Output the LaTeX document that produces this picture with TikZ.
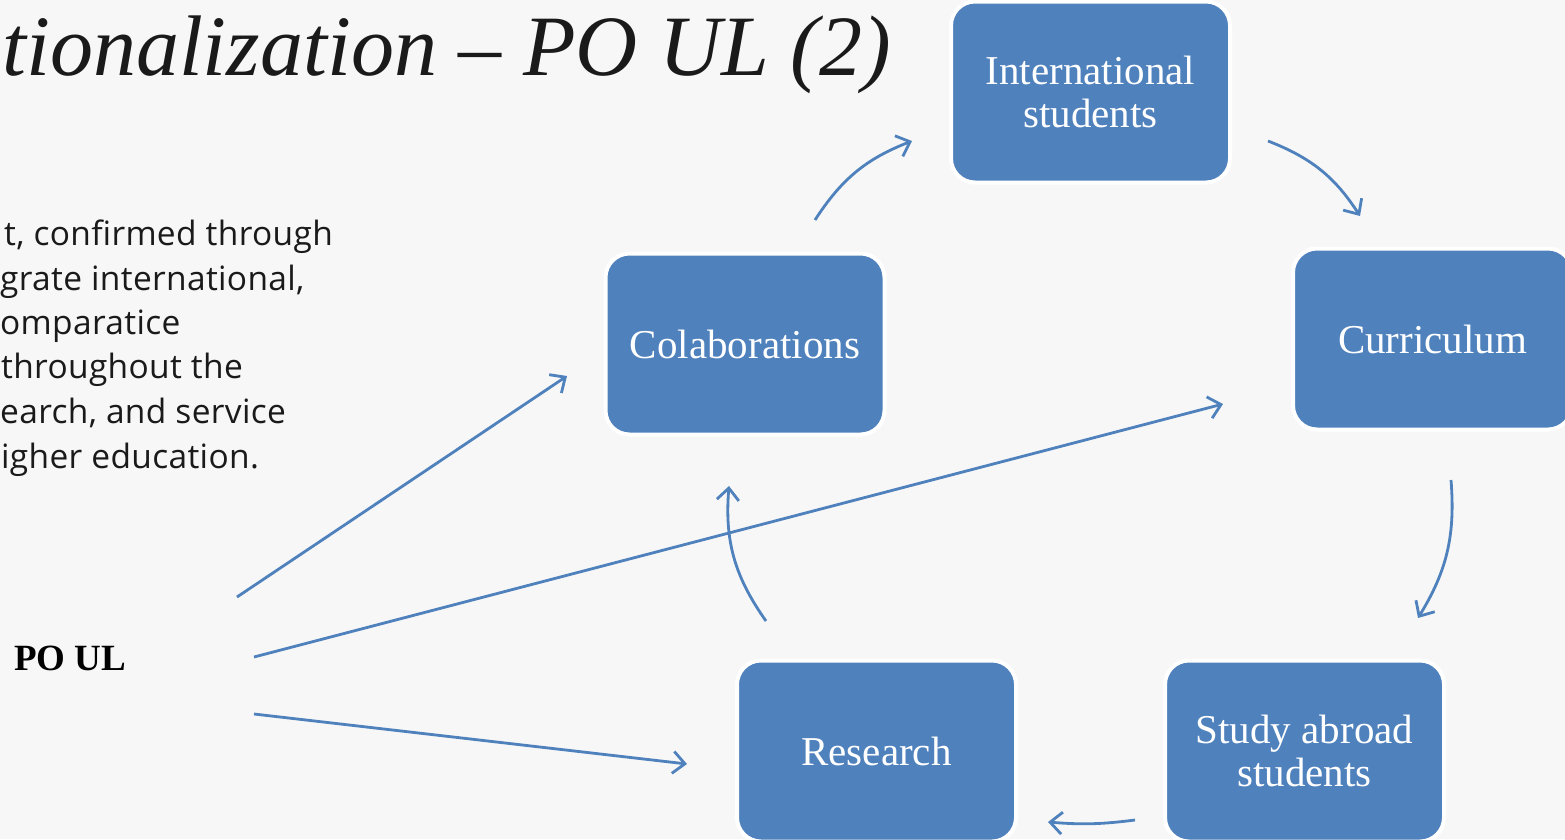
\documentclass[tikz,border=0pt]{standalone}
\usepackage{fontspec}
\setmainfont{Liberation Serif}
\newfontfamily\bodyfont[LetterSpace=1]{Open Sans}
\usetikzlibrary{arrows.meta}
\definecolor{boxblue}{HTML}{4F81BD}
\definecolor{bgcol}{HTML}{F7F7F7}
\definecolor{txt}{HTML}{1A1A1A}
\begin{document}
\begin{tikzpicture}[x=1pt,y=1pt,
  box/.style={draw=white, line width=4pt, fill=boxblue, rounded corners=24pt,
    minimum width=279pt, minimum height=181pt, text=white,
    font=\fontsize{41}{43}\selectfont, align=center, inner sep=0pt},
  conn/.style={draw=boxblue, line width=2.8pt, -{Straight Barb[length=12pt,width=22pt]}},
  bodyline/.style={font=\bodyfont\fontsize{33.5}{40}\selectfont, anchor=base west, inner sep=0pt, text=txt}
]
\useasboundingbox (0,0) rectangle (1565,-839);
\clip (0,0) rectangle (1565,-839);
\fill[bgcol] (0,0) rectangle (1565,-839);

% title
\node[anchor=base west, inner sep=0pt, text=txt, font=\itshape\fontsize{86}{90}\selectfont] (title) at (2,-75) {tionalization -- PO UL (2)};

% body text
\node[bodyline] (l1) at (4,-245) {t, confirmed through};
\node[bodyline] (l2) at (0,-290) {grate international,};
\node[bodyline] (l3) at (0,-334) {omparatice};
\node[bodyline] (l4) at (1,-378) {throughout the};
\node[bodyline] (l5) at (0,-423) {earch, and service};
\node[bodyline] (l6) at (1,-468) {igher education.};

% PO UL
\node[anchor=base west, inner sep=0pt, font=\bfseries\fontsize{37}{40}\selectfont] (poul) at (14,-670) {PO UL};

% boxes
\node[box] (intl) at (1090.5,-92) {International\\students};
\node[box] (colab) at (745,-344) {Colaborations};
\node[box] (curr) at (1432.5,-339) {Curriculum};
\node[box] (res) at (876.5,-751) {Research};
\node[box] (study) at (1304.5,-751) {Study abroad\\students};

% connector endpoints
\coordinate (c1s) at (815,-220);  \coordinate (c1e) at (912,-141);
\coordinate (c2s) at (1268,-141); \coordinate (c2e) at (1360,-216);
\coordinate (c3s) at (1451,-480); \coordinate (c3e) at (1418,-618);
\coordinate (c4s) at (1135,-820); \coordinate (c4e) at (1048,-822);
\coordinate (c5s) at (766,-621);  \coordinate (c5e) at (729,-486);
\coordinate (p1) at (237,-597); \coordinate (q1) at (567,-376);
\coordinate (p2) at (254,-657); \coordinate (q2) at (1223,-404);
\coordinate (p3) at (254,-714); \coordinate (q3) at (687,-764);

\draw[conn] (c1s) to[bend left=18] (c1e);
\draw[conn] (c2s) to[bend left=18] (c2e);
\draw[conn] (c3s) to[bend left=18] (c3e);
\draw[conn] (c4s) to[bend left=6] (c4e);
\draw[conn] (c5s) to[bend left=20] (c5e);
\draw[conn] (p1) -- (q1);
\draw[conn] (p2) -- (q2);
\draw[conn] (p3) -- (q3);
\end{tikzpicture}
\end{document}
